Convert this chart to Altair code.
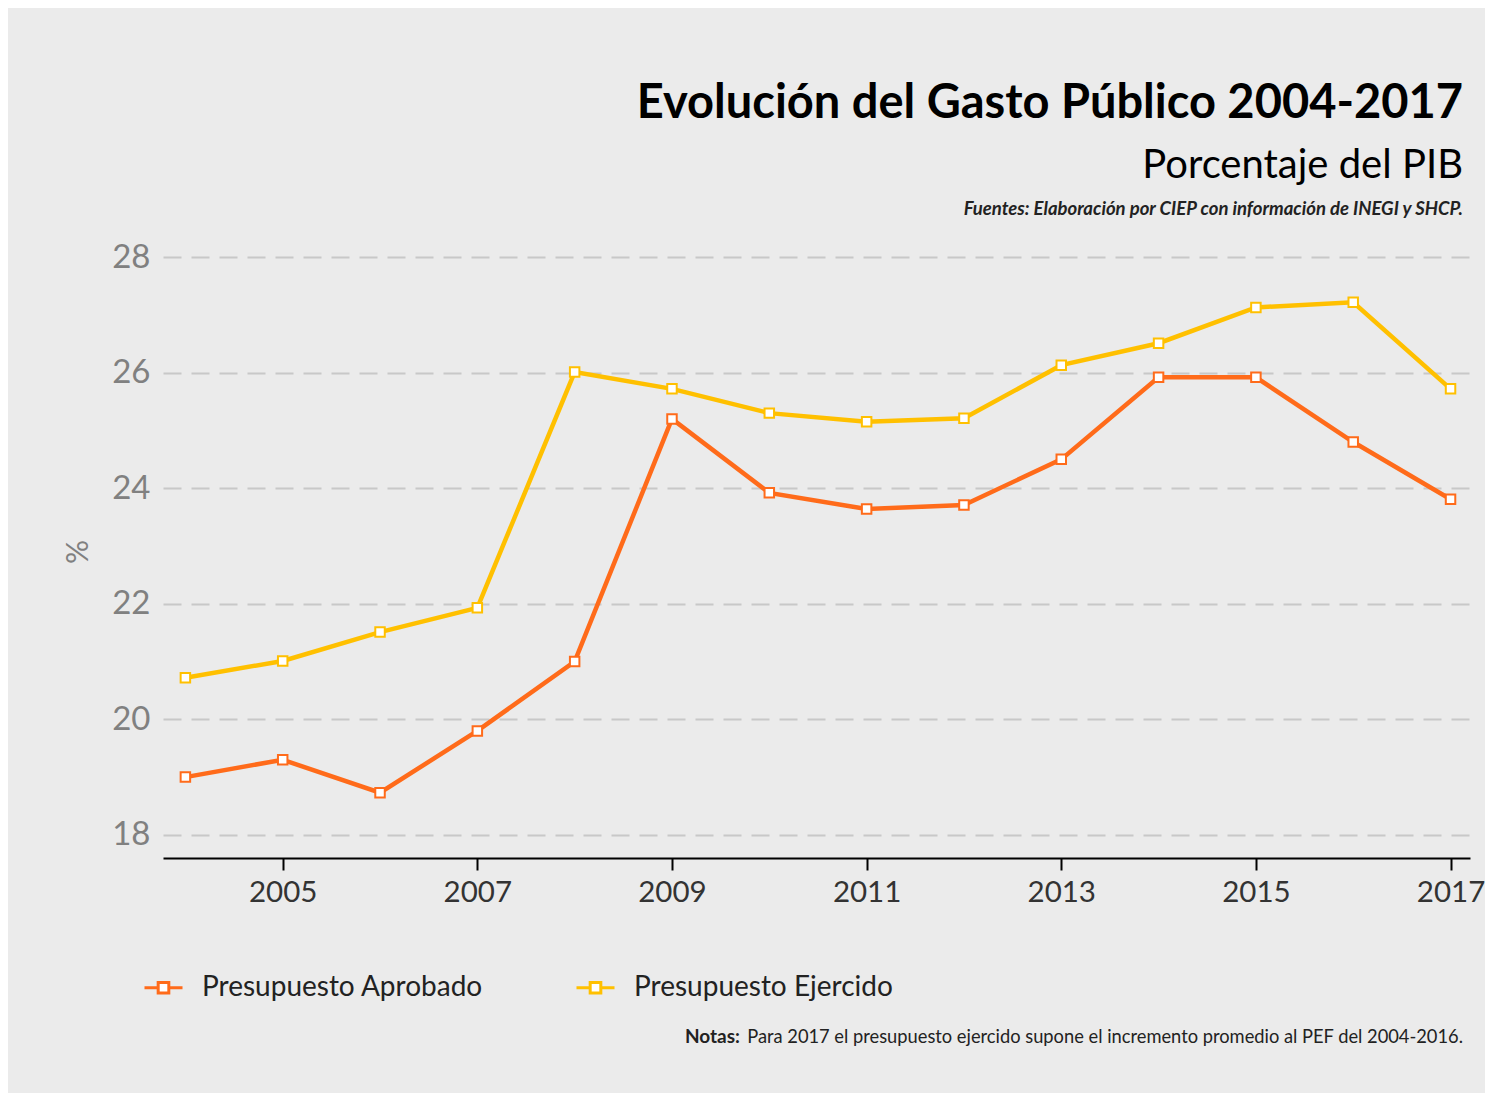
import altair as alt
import pandas as pd

years = list(range(2004, 2018))
aprobado = [19.0, 19.3, 18.73, 19.8, 21.0, 25.2, 23.92, 23.64, 23.71, 24.5, 25.92, 25.92, 24.8, 23.81]
ejercido = [20.72, 21.01, 21.51, 21.93, 26.01, 25.72, 25.30, 25.15, 25.21, 26.13, 26.51, 27.13, 27.22, 25.72]
series = ["Presupuesto Aprobado", "Presupuesto Ejercido"]
colors = ["#FF6B1A", "#FFC000"]
y_ticks = [18, 20, 22, 24, 26, 28]
x_ticks = [2005, 2007, 2009, 2011, 2013, 2015, 2017]

title_text = "Evolución del Gasto Público 2004-2017"
subtitle_text = "Porcentaje del PIB"
source_text = "Fuentes: Elaboración por CIEP con información de INEGI y SHCP."
notes_bold = "Notas:"
notes_text = "Para 2017 el presupuesto ejercido supone el incremento promedio al PEF del 2004-2016."

rows = []
for y, a, e in zip(years, aprobado, ejercido):
    rows.append({"year": y, "value": a, "serie": series[0]})
    rows.append({"year": y, "value": e, "serie": series[1]})
df = pd.DataFrame(rows)

FONT = "Lato"
W, H = 1307, 613

legend_path = "M-1,0H-0.28M0.28,0H1M-0.28,-0.28H0.28V0.28H-0.28Z"

color = alt.Color(
    "serie:N",
    scale=alt.Scale(domain=series, range=colors),
    legend=alt.Legend(
        title=None,
        orient="none",
        legendX=-20,
        legendY=722,
        direction="horizontal",
        columns=2,
        columnPadding=86,
        labelFontSize=28,
        labelFont=FONT,
        labelColor="#222222",
        labelOffset=18,
        labelLimit=0,
        symbolType=legend_path,
        symbolSize=1444,
        symbolStrokeWidth=3,
        symbolFillColor="white",
    ),
)

x = alt.X(
    "year:Q",
    scale=alt.Scale(domain=[2003.77, 2017.2], nice=False, zero=False),
    axis=alt.Axis(
        values=x_ticks, format="d", grid=False, title=None,
        domainColor="#000000", domainWidth=2,
        tickColor="#000000", tickWidth=2, tickSize=12,
        labelFontSize=29.5, labelFont=FONT, labelColor="#333333", labelPadding=8,
    ),
)
y = alt.Y(
    "value:Q",
    scale=alt.Scale(domain=[17.6, 28.21], nice=False, zero=False),
    axis=alt.Axis(
        values=y_ticks, grid=True, gridDash=[18, 10], gridColor="#C8C8C8", gridWidth=2,
        domain=False, ticks=False,
        labelFontSize=33, labelFont=FONT, labelColor="#808080", labelPadding=13,
        title="%", titleFontSize=30, titleFont=FONT, titleColor="#808080",
        titleFontWeight="normal", titlePadding=18,
    ),
)

base = alt.Chart(df).encode(x=x, y=y, color=color)
lines = base.mark_line(strokeWidth=4.5)
points = base.mark_point(shape="square", filled=False, fill="white", fillOpacity=1, opacity=1, size=90, strokeWidth=2)


def txt(s, xpos, ypos, size, weight="normal", style="normal", align="right", color="#000000"):
    return alt.Chart(pd.DataFrame({"t": [s]})).mark_text(
        font=FONT, fontSize=size, fontWeight=weight, fontStyle=style,
        align=align, baseline="alphabetic", color=color,
    ).encode(text="t:N", x=alt.value(xpos), y=alt.value(ypos))


title = txt(title_text, 1300, -127, 47, weight="bold")
subtitle = txt(subtitle_text, 1300, -67, 40)
source = txt(source_text, 1300, -30, 18.5, weight="bold", style="italic", color="#222222")
notes_b = txt(notes_bold, 577, 798, 19, weight="bold", align="right", color="#222222")
notes_t = txt(notes_text, 1300, 798, 18.3, align="right", color="#222222")

chart = alt.layer(lines, points, title, subtitle, source, notes_b, notes_t).properties(
    width=W,
    height=H,
    padding={"left": 155, "top": 237, "right": 15, "bottom": 235},
    autosize=alt.AutoSizeParams(type="none"),
    background="#EBEBEB",
).configure_view(stroke=None)

chart.save("out.html", embed_options={"renderer": "svg", "actions": False})
